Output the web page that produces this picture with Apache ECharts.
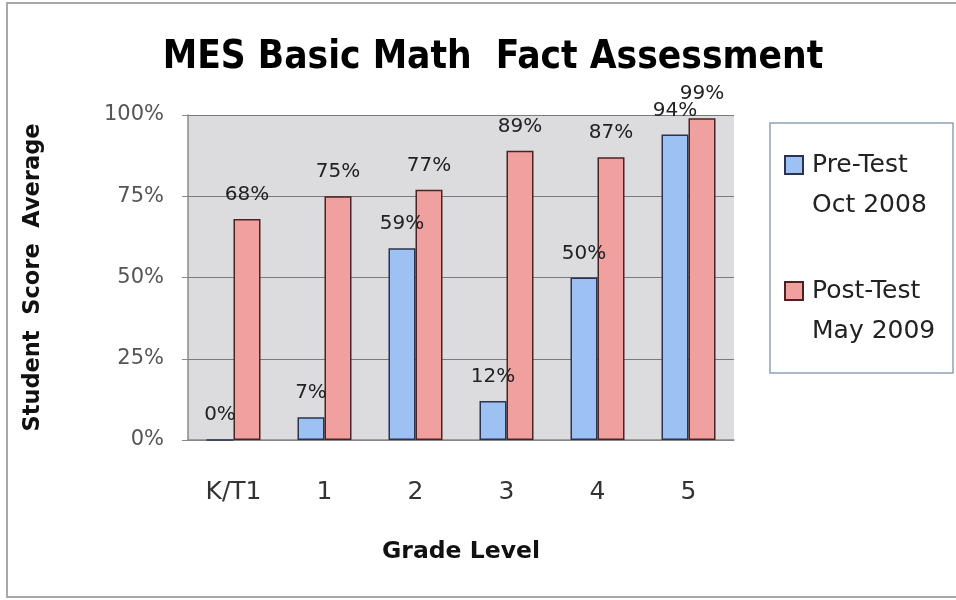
<!DOCTYPE html>
<html>
<head>
<meta charset="utf-8">
<script src="https://cdn.jsdelivr.net/npm/echarts@6/dist/echarts.min.js"></script>
<style>
  html, body { margin: 0; padding: 0; background: #fff; }
  #chart { width: 956px; height: 600px; }
</style>
</head>
<body>
<div id="chart"></div>
<script>
const grades = ['K/T1', '1', '2', '3', '4', '5'];
const preTest = [0, 7, 59, 12, 50, 94];
const postTest = [68, 75, 77, 89, 87, 99];
const yTicks = [0, 25, 50, 75, 100];

const chart = echarts.init(document.getElementById('chart'));

const labelFont = 'DejaVu Sans, Verdana, sans-serif';

const option = {
  animation: false,
  backgroundColor: '#ffffff',
  title: {
    text: 'MES Basic Math  Fact Assessment',
    left: 488,
    top: 33,
    textAlign: 'center',
    textStyle: {
      fontFamily: 'Liberation Sans Narrow, DejaVu Sans Condensed, sans-serif',
      fontWeight: 'bold',
      fontSize: 38.5,
      color: '#000'
    }
  },
  graphic: [
    {
      type: 'rect',
      shape: { x: 7, y: 3, width: 960, height: 594 },
      style: { fill: 'none', stroke: '#a8a8a8', lineWidth: 2 },
      silent: true
    },
    {
      type: 'rect',
      shape: { x: 770, y: 123, width: 183, height: 250 },
      style: { fill: '#fff', stroke: '#8fa3b8', lineWidth: 1.5 },
      silent: true,
      z: -1
    }
  ],
  legend: {
    orient: 'vertical',
    left: 784,
    top: 105,
    padding: 0,
    itemWidth: 18,
    itemHeight: 18,
    itemGap: 6,
    icon: 'rect',
    data: [
      { name: 'Pre-Test\nOct 2008' },
      { name: 'Post-Test\nMay 2009' }
    ],
    // blank first line so the swatch sits beside the first text line
    formatter: function (name) {
      return '\n' + name;
    },
    textStyle: {
      fontFamily: labelFont,
      fontSize: 25,
      color: '#222',
      lineHeight: 40,
      padding: [0, 0, 0, 4]
    }
  },
  grid: {
    left: 188,
    right: 222,
    top: 115,
    bottom: 160,
    show: true,
    backgroundColor: '#dcdbde',
    borderWidth: 0
  },
  xAxis: {
    type: 'category',
    data: grades,
    name: 'Grade Level',
    nameLocation: 'middle',
    nameGap: 100,
    nameTextStyle: {
      fontFamily: labelFont,
      fontWeight: 'bold',
      fontSize: 23.5,
      color: '#111'
    },
    axisLine: { lineStyle: { color: '#8a8a8a', width: 1.5 } },
    axisTick: { length: 8, lineStyle: { color: '#8a8a8a' } },
    axisLabel: {
      margin: 40,
      fontFamily: labelFont,
      fontSize: 25,
      color: '#333'
    }
  },
  yAxis: {
    type: 'value',
    min: yTicks[0],
    max: yTicks[yTicks.length - 1],
    interval: 25,
    name: 'Student  Score  Average',
    nameLocation: 'middle',
    nameGap: 143,
    nameTextStyle: {
      fontFamily: labelFont,
      fontWeight: 'bold',
      fontSize: 22.5,
      color: '#111'
    },
    axisLine: { show: true, lineStyle: { color: '#8a8a8a', width: 1.5 } },
    axisTick: { show: true, length: 6, lineStyle: { color: '#8a8a8a' } },
    axisLabel: {
      margin: 24,
      fontFamily: labelFont,
      fontSize: 21,
      color: '#555',
      formatter: '{value}%'
    },
    splitLine: { lineStyle: { color: '#7a7a7a', width: 1 } }
  },
  series: [
    {
      name: 'Pre-Test\nOct 2008',
      type: 'bar',
      data: preTest,
      barWidth: 27,
      barGap: '0%',
      itemStyle: { color: '#9cc1f2', borderColor: '#2c3350', borderWidth: 1.5 },
      label: {
        show: true,
        position: 'top',
        distance: 14,
        formatter: '{c}%',
        fontFamily: labelFont,
        fontSize: 20,
        color: '#222'
      }
    },
    {
      name: 'Post-Test\nMay 2009',
      type: 'bar',
      data: postTest,
      barWidth: 27,
      barGap: '0%',
      itemStyle: { color: '#f0a09f', borderColor: '#4a2424', borderWidth: 1.5 },
      label: {
        show: true,
        position: 'top',
        distance: 14,
        formatter: '{c}%',
        fontFamily: labelFont,
        fontSize: 20,
        color: '#222'
      }
    }
  ]
};

chart.setOption(option);
</script>
</body>
</html>
